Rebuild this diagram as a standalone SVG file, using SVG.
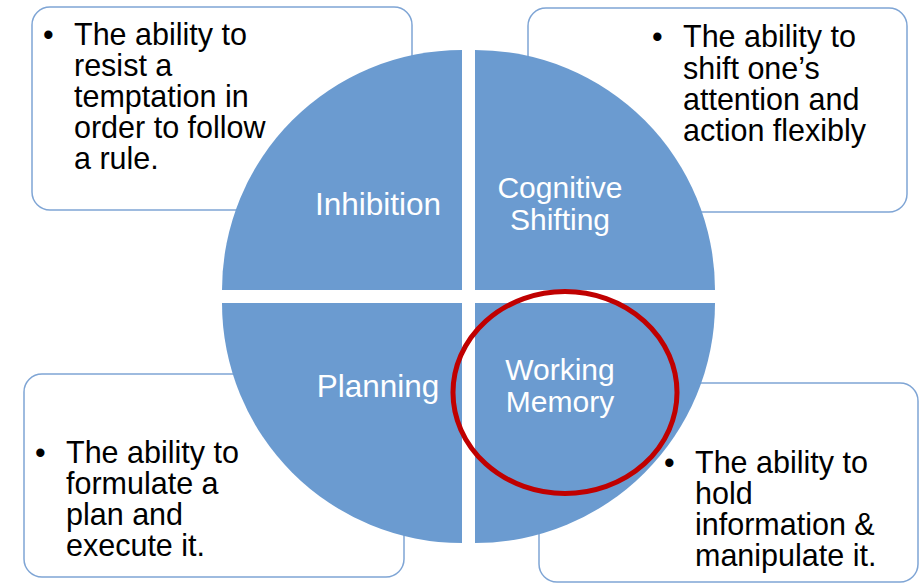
<svg xmlns="http://www.w3.org/2000/svg" width="921" height="584" viewBox="0 0 921 584">
<style>
.box{fill:#ffffff;stroke:#7FA5D5;stroke-width:1.5}
.q{fill:#6B9BD0}
.t{font-family:"Liberation Sans",Arial,sans-serif;font-size:30.5px;fill:#000000}
.l{font-family:"Liberation Sans",Arial,sans-serif;font-size:30px;fill:#ffffff;text-anchor:middle}
.hl{fill:none;stroke:#C00000;stroke-width:5}
</style>
<rect width="921" height="584" fill="#ffffff"/>
<g id="box-inhibition">
<rect class="box" x="32" y="7" width="380" height="203" rx="18"/>
<text class="t"><tspan x="43" y="45">•</tspan><tspan x="74" y="45">The ability to</tspan><tspan x="74" y="76">resist a</tspan><tspan x="74" y="107">temptation in</tspan><tspan x="74" y="138">order to follow</tspan><tspan x="74" y="169">a rule.</tspan></text>
</g>
<g id="box-shifting">
<rect class="box" x="528" y="8" width="379" height="204" rx="18"/>
<text class="t"><tspan x="652" y="47">•</tspan><tspan x="683" y="47">The ability to</tspan><tspan x="683" y="79">shift one’s</tspan><tspan x="683" y="110">attention and</tspan><tspan x="683" y="141">action flexibly</tspan></text>
</g>
<g id="box-planning">
<rect class="box" x="24" y="374" width="380" height="203" rx="18"/>
<text class="t"><tspan x="35" y="463">•</tspan><tspan x="66" y="463">The ability to</tspan><tspan x="66" y="494">formulate a</tspan><tspan x="66" y="525">plan and</tspan><tspan x="66" y="556">execute it.</tspan></text>
</g>
<g id="box-memory">
<rect class="box" x="539" y="383" width="379" height="199" rx="18"/>
<text class="t"><tspan x="664" y="473">•</tspan><tspan x="695" y="473">The ability to</tspan><tspan x="695" y="504">hold</tspan><tspan x="695" y="535">information &amp;</tspan><tspan x="695" y="566">manipulate it.</tspan></text>
</g>
<g id="inhibition">
<path class="q" d="M462 290 L222 290 A240 240 0 0 1 462 50 Z"/>
<text class="l" x="378" y="215" style="font-size:31.5px">Inhibition</text>
</g>
<g id="cognitive-shifting">
<path class="q" d="M475 290 L475 50 A240 240 0 0 1 715 290 Z"/>
<text class="l"><tspan x="560" y="198">Cognitive</tspan><tspan x="560" y="230">Shifting</tspan></text>
</g>
<g id="planning">
<path class="q" d="M462 303 L462 543 A240 240 0 0 1 222 303 Z"/>
<text class="l" x="378" y="397" style="font-size:31.5px">Planning</text>
</g>
<g id="working-memory">
<path class="q" d="M475 303 L715 303 A240 240 0 0 1 475 543 Z"/>
<text class="l"><tspan x="560" y="380">Working</tspan><tspan x="560" y="412">Memory</tspan></text>
</g>
<g id="connectors"></g>
<g id="highlight">
<ellipse class="hl" cx="565" cy="392.5" rx="112" ry="101"/>
</g>
</svg>
